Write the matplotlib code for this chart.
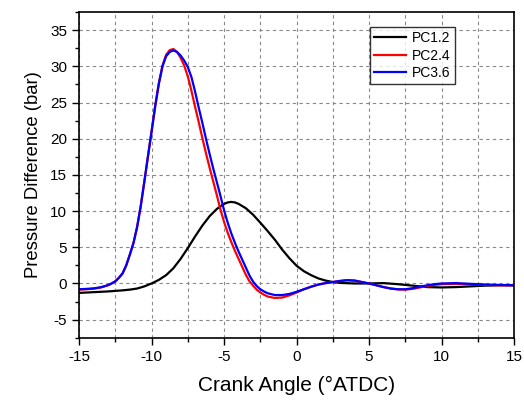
import numpy as np
import matplotlib
matplotlib.use("Agg")
import matplotlib.pyplot as plt
from matplotlib.ticker import MultipleLocator

plt.rcParams['font.family'] = ['Liberation Sans', 'DejaVu Sans']
plt.rcParams['axes.unicode_minus'] = False

# crank angle grid for PC2.4 / PC3.6 (denser around the main peak)
x_fast = [-15, -14.5, -14, -13.5, -13, -12.75, -12.5, -12.25, -12, -11.75,
          -11.5, -11.25, -11, -10.75, -10.5, -10.25, -10, -9.75, -9.5, -9.25,
          -9, -8.75, -8.5, -8.25, -8, -7.75, -7.5, -7.25, -7, -6.75, -6.5,
          -6.25, -6, -5.75, -5.5, -5.25, -5, -4.75, -4.5, -4.25, -4, -3.75,
          -3.5, -3.25, -3, -2.75, -2.5, -2.25, -2, -1.5, -1, -0.5, 0, 0.5,
          1, 1.5, 2, 2.5, 3, 3.5, 4, 4.5, 5, 5.5, 6, 6.5, 7, 7.5, 8, 8.5, 9,
          9.5, 10, 11, 12, 13, 14, 15]

pc24 = [-0.85, -0.8, -0.72, -0.55, -0.25, 0.0, 0.3, 0.8, 1.4, 2.5,
        4.0, 5.6, 7.8, 10.7, 14.1, 17.6, 21.1, 24.6, 27.7, 30.1,
        31.6, 32.25, 32.4, 32.0, 31.2, 30.1, 28.6, 26.6, 24.4, 22.3, 20.1,
        18.0, 16.0, 14.1, 12.2, 10.2, 8.5, 7.0, 5.7, 4.5, 3.4, 2.3,
        1.2, 0.3, -0.3, -0.85, -1.25, -1.55, -1.8, -2.0, -1.95, -1.65, -1.25, -0.8,
        -0.45, -0.15, 0.05, 0.2, 0.35, 0.45, 0.4, 0.2, 0.0, -0.25, -0.5, -0.7,
        -0.82, -0.85, -0.75, -0.55, -0.35,
        -0.2, -0.1, -0.05, -0.1, -0.2, -0.25, -0.25]

pc36 = [-0.8, -0.75, -0.68, -0.52, -0.22, 0.02, 0.3, 0.8, 1.4, 2.5,
        4.0, 5.6, 7.8, 10.7, 14.1, 17.6, 21.0, 24.5, 27.6, 30.0,
        31.4, 32.0, 32.2, 32.0, 31.5, 30.8, 29.9, 28.5, 26.5, 24.3, 22.2,
        20.0, 17.9, 15.9, 14.0, 12.1, 10.1, 8.4, 6.9, 5.6, 4.4, 3.3,
        2.2, 1.1, 0.25, -0.35, -0.8, -1.1, -1.35, -1.6, -1.6, -1.45, -1.15, -0.8,
        -0.45, -0.15, 0.05, 0.2, 0.35, 0.45, 0.4, 0.2, 0.0, -0.25, -0.5, -0.7,
        -0.8, -0.8, -0.65, -0.45, -0.25,
        -0.1, 0.0, 0.05, -0.05, -0.15, -0.2, -0.25]

# PC1.2
x_slow = [-15, -14, -13, -12, -11.5, -11, -10.5, -10, -9.5, -9, -8.5, -8,
          -7.5, -7, -6.5, -6, -5.5, -5, -4.75, -4.5, -4.25, -4, -3.5, -3,
          -2.5, -2, -1.5, -1, -0.5, 0, 0.5, 1, 1.5, 2, 2.5, 3, 4, 5, 6, 7,
          8, 9, 10, 11, 12, 13, 14, 15]

pc12 = [-1.3, -1.2, -1.1, -0.95, -0.85, -0.7, -0.4, 0.0, 0.5, 1.15, 2.1, 3.4,
        4.9, 6.5, 8.0, 9.3, 10.3, 11.0, 11.2, 11.27, 11.2, 11.0, 10.4, 9.5,
        8.4, 7.25, 6.05, 4.7, 3.5, 2.45, 1.7, 1.15, 0.7, 0.4, 0.2, 0.08, 0.0,
        0.0, 0.05, -0.1, -0.3, -0.5, -0.55, -0.5, -0.4, -0.3, -0.25, -0.25]

fig = plt.figure(figsize=(5.24, 4.04), dpi=100)
ax = fig.add_axes([0.151, 0.164, 0.83, 0.806])

ax.plot(x_slow, pc12, color='black', lw=1.6, label='PC1.2')
ax.plot(x_fast, pc24, color='red', lw=1.6, label='PC2.4')
ax.plot(x_fast, pc36, color='blue', lw=1.6, label='PC3.6')

ax.set_xlim(-15, 15)
ax.set_ylim(-7.5, 37.5)
ax.xaxis.set_major_locator(MultipleLocator(5))
ax.xaxis.set_minor_locator(MultipleLocator(2.5))
ax.yaxis.set_major_locator(MultipleLocator(5))
ax.yaxis.set_minor_locator(MultipleLocator(2.5))
ax.tick_params(which='both', direction='out', top=False, right=False,
               labelsize=11, width=1)
ax.tick_params(which='major', length=5)
ax.tick_params(which='minor', length=3)

ax.grid(True, which='both', axis='x', color='#888888', ls=(0, (3, 3)), lw=0.8)
ax.grid(True, which='major', axis='y', color='#888888', ls=(0, (3, 3)), lw=0.8)
ax.set_axisbelow(True)

for s in ax.spines.values():
    s.set_linewidth(1.2)

ax.set_xlabel('Crank Angle (°ATDC)', fontsize=15, labelpad=9)
ax.set_ylabel('Pressure Difference (bar)', fontsize=13.3, labelpad=6)

leg = ax.legend(loc='upper left', bbox_to_anchor=(0.669, 0.954), fontsize=10,
                frameon=True, fancybox=False, handlelength=2.3,
                borderpad=0.3, labelspacing=0.25, handletextpad=0.4,
                borderaxespad=0)
leg.get_frame().set_edgecolor('black')
leg.get_frame().set_linewidth(1.0)

fig.savefig('out.png', dpi=100)
